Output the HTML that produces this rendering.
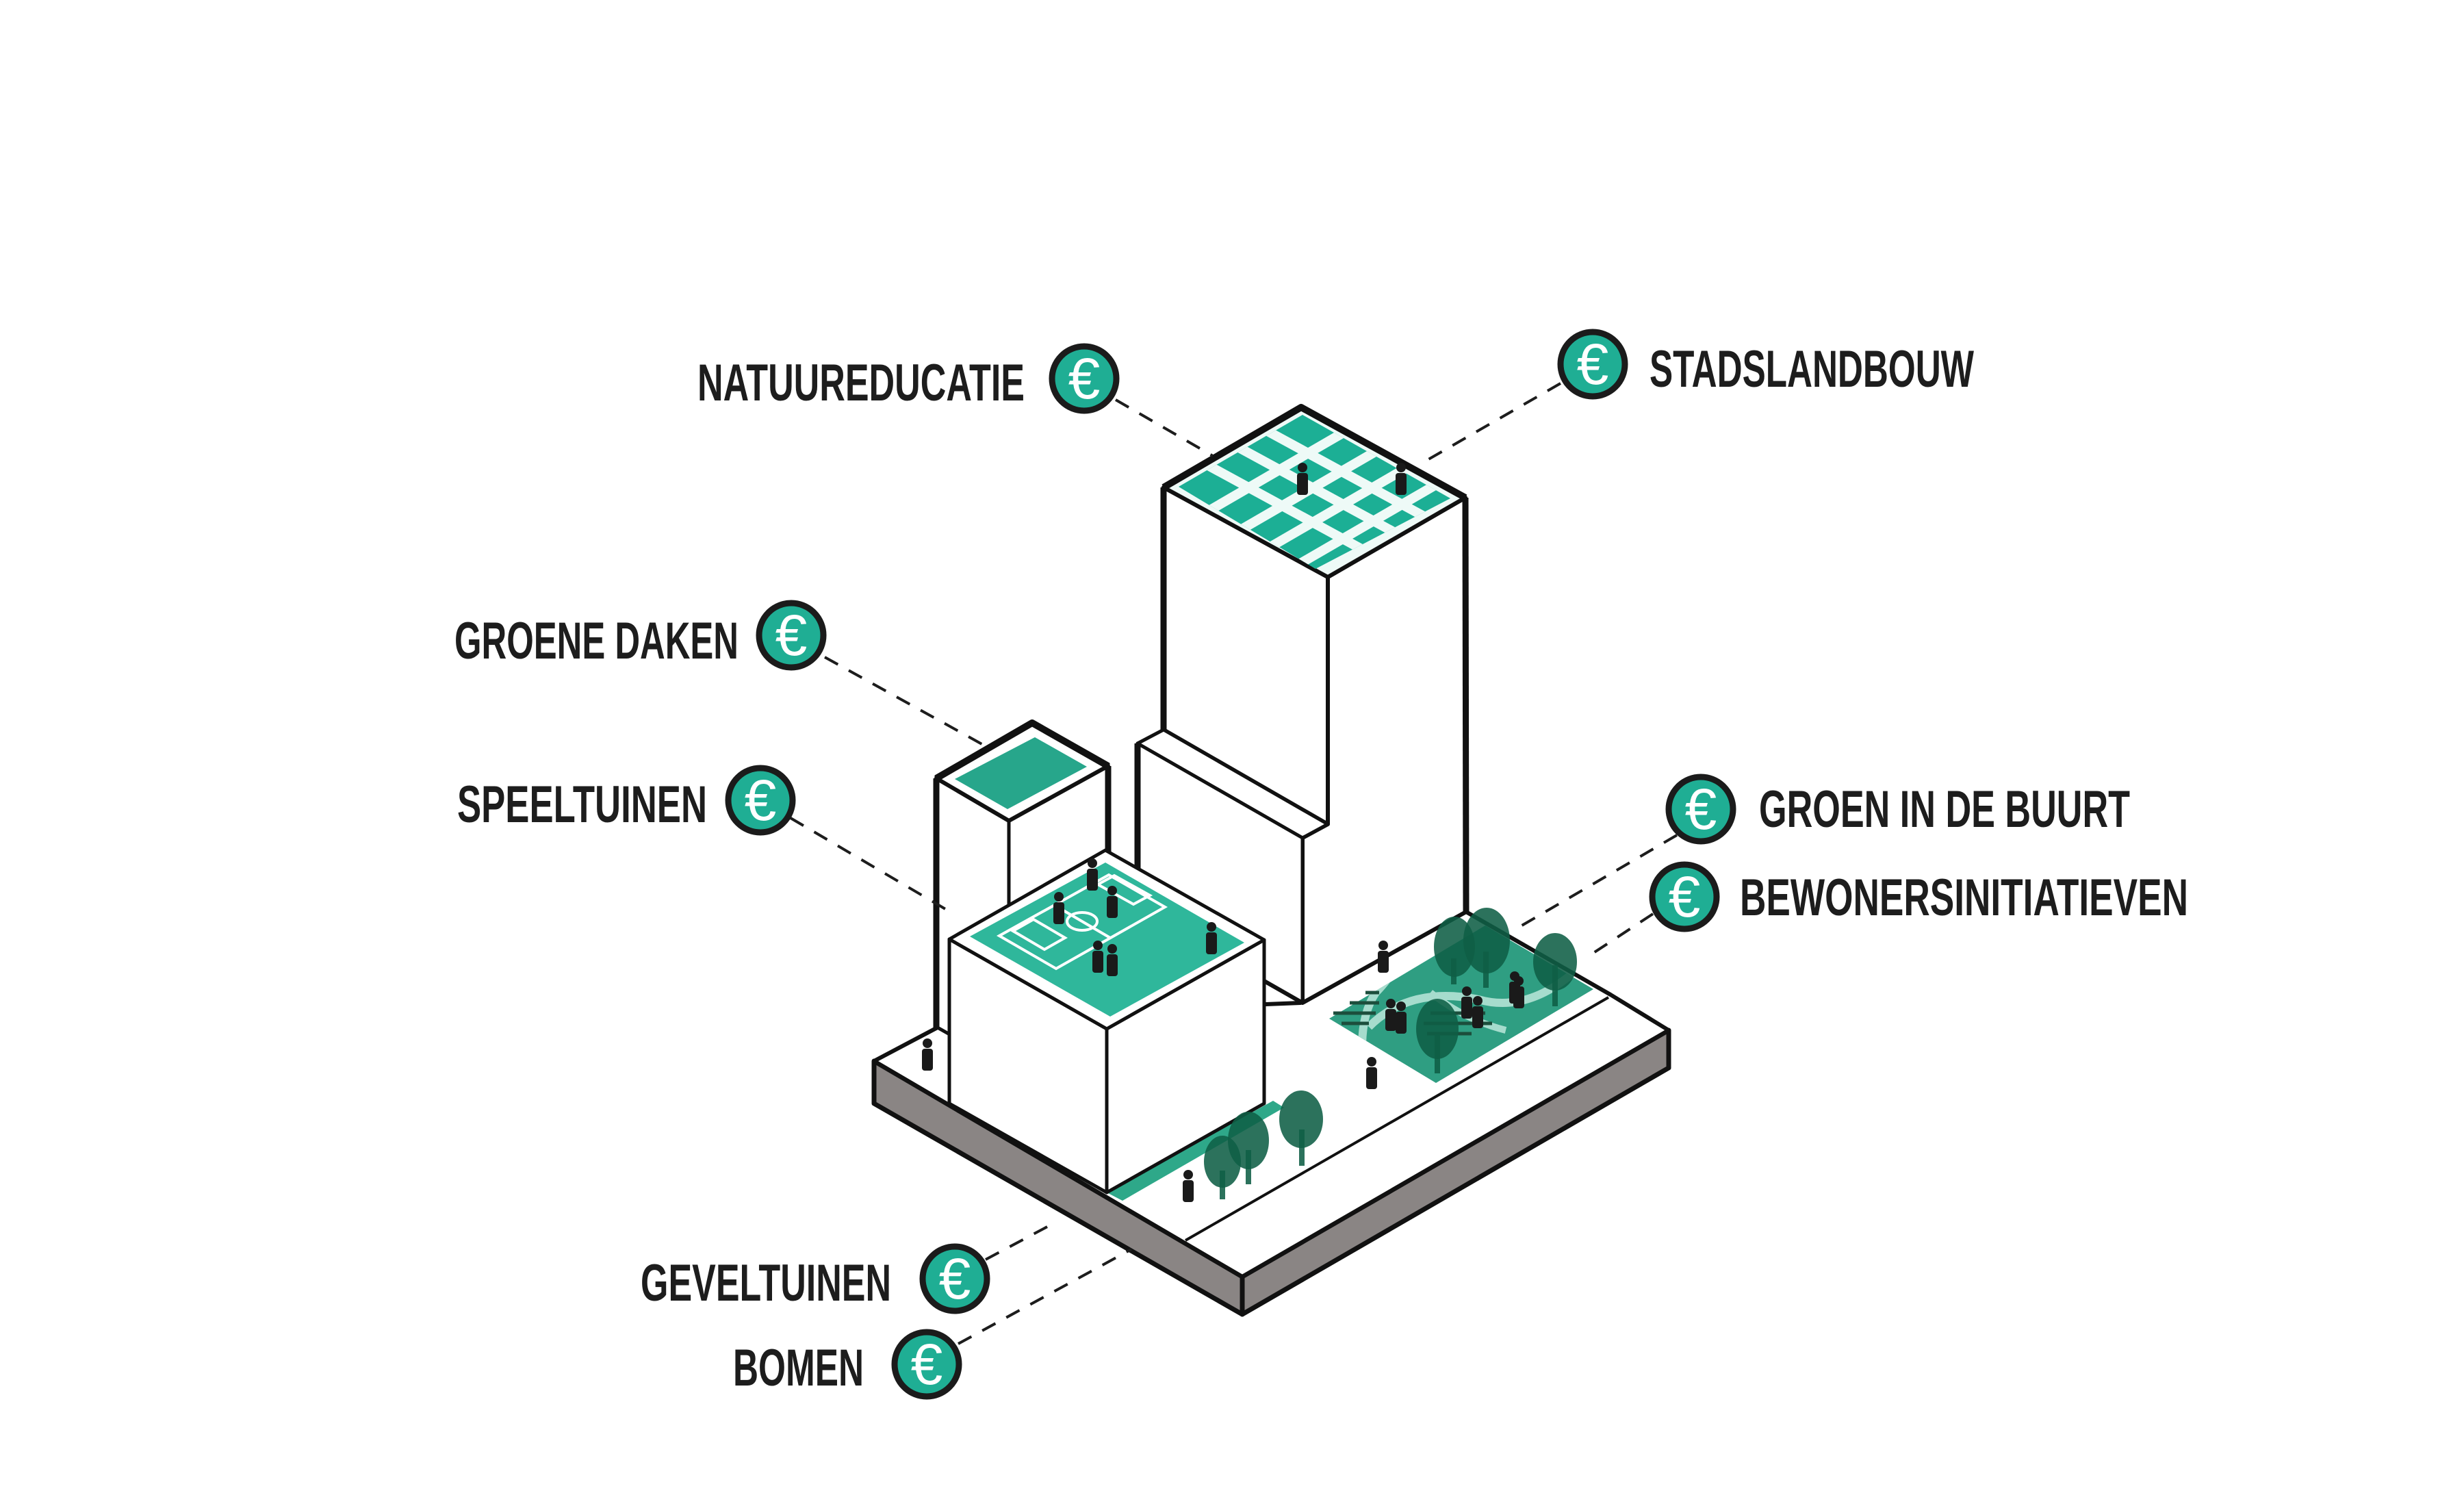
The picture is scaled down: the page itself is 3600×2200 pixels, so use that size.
<!DOCTYPE html>
<html><head><meta charset="utf-8"><style>
html,body{margin:0;padding:0;background:#fff}
svg{display:block}
.lbl{font-family:"Liberation Sans",sans-serif;font-weight:bold;font-size:76px;fill:#1d1d1d}
.eu{font-family:"Liberation Sans",sans-serif;font-size:84px;fill:#fff;text-anchor:middle}
</style></head><body>
<svg width="3600" height="2200" viewBox="0 0 3600 2200" xmlns="http://www.w3.org/2000/svg">
<defs>
<clipPath id="roofclip"><polygon points="1722,711 1903,606 2119,728 1922,831"/></clipPath>
<clipPath id="parkclip"><polygon points="1942,1488 2098,1582 2328,1445 2170,1352"/></clipPath>
<g id="p"><circle cx="0" cy="7" r="7"/><rect x="-8" y="15" width="16" height="32" rx="4"/></g>
</defs>
<rect width="3600" height="2200" fill="#fff"/>

<!-- slab -->
<polygon points="1277,1550 1815,1865 1815,1920 1277,1612" fill="#8a8584" stroke="#111" stroke-width="7" stroke-linejoin="round"/>
<polygon points="1815,1865 2438,1505 2438,1560 1815,1920" fill="#8a8584" stroke="#111" stroke-width="7" stroke-linejoin="round"/>
<polygon points="1277,1550 1400,1485 1900,1465 2142,1332 2353,1453 2438,1505 1815,1865" fill="#fff" stroke="#111" stroke-width="6" stroke-linejoin="round"/>
<line x1="1732" y1="1812" x2="2350" y2="1457" stroke="#111" stroke-width="4"/>

<!-- park -->
<polygon points="1942,1488 2098,1582 2328,1445 2170,1352" fill="#2f9e82"/>
<g clip-path="url(#parkclip)">
<path d="M2060,1370 Q2040,1420 2010,1450 Q1990,1480 1990,1530" stroke="#a6dccd" stroke-width="12" fill="none"/>
<path d="M2000,1500 Q2060,1440 2160,1460 Q2230,1480 2300,1420" stroke="#a6dccd" stroke-width="12" fill="none"/>
<path d="M2090,1450 Q2140,1490 2200,1505" stroke="#a6dccd" stroke-width="10" fill="none"/>
</g>
<g stroke="#1c4e3c" stroke-width="5">
<line x1="1995" y1="1450" x2="2015" y2="1450"/><line x1="1972" y1="1465" x2="2015" y2="1465"/><line x1="1948" y1="1480" x2="2010" y2="1480"/><line x1="1960" y1="1495" x2="2000" y2="1495"/>
<line x1="2090" y1="1480" x2="2170" y2="1480"/><line x1="2080" y1="1495" x2="2180" y2="1495"/><line x1="2085" y1="1510" x2="2150" y2="1510"/>
</g>

<!-- green strip -->
<polygon points="1617,1742 1640,1754 1876,1618 1860,1608" fill="#2ea889"/>

<!-- tall tower -->
<polygon points="1700,712 1940,843 1940,1204 1700,1066" fill="#fff" stroke="#111" stroke-width="6" stroke-linejoin="round"/>
<polygon points="1940,843 2141,727 2142,1332 1903,1465 1903,1224 1940,1204" fill="#fff" stroke="#111" stroke-width="6" stroke-linejoin="round"/>
<polygon points="1700,712 1901,595 2141,727 1940,843" fill="#eefaf7" stroke="#111" stroke-width="6" stroke-linejoin="round"/>
<polyline points="1700,712 1901,595 2141,727" fill="none" stroke="#111" stroke-width="10" stroke-linejoin="round"/>
<line x1="2141" y1="727" x2="2142" y2="1332" stroke="#111" stroke-width="9"/>
<line x1="1700" y1="712" x2="1700" y2="1066" stroke="#111" stroke-width="9"/>
<polygon points="1722,711 1903,606 2119,728 1922,831" fill="#1caf95"/>
<g clip-path="url(#roofclip)" stroke="#eefaf7" stroke-width="14">
<line x1="1712" y1="651" x2="2048" y2="834"/>
<line x1="1757" y1="625" x2="2093" y2="808"/>
<line x1="1799" y1="601" x2="2135" y2="784"/>
<line x1="1725" y1="770" x2="2006" y2="607"/>
<line x1="1773" y1="797" x2="2054" y2="634"/>
<line x1="1818" y1="821" x2="2099" y2="658"/>
<line x1="1862" y1="845" x2="2143" y2="682"/>
</g>

<!-- middle block -->
<polygon points="1662,1086 1700,1066 1940,1204 1903,1224" fill="#fff" stroke="#111" stroke-width="5" stroke-linejoin="round"/>
<polygon points="1662,1086 1903,1224 1903,1465 1662,1330" fill="#fff" stroke="#111" stroke-width="5" stroke-linejoin="round"/>
<line x1="1662" y1="1086" x2="1662" y2="1290" stroke="#111" stroke-width="9"/>
<line x1="1847" y1="1433" x2="1903" y2="1465" stroke="#111" stroke-width="6"/>

<!-- small tower -->
<polygon points="1368,1137 1474,1199 1474,1560 1368,1500" fill="#fff" stroke="#111" stroke-width="5"/>
<polygon points="1474,1199 1619,1119 1619,1500 1474,1560" fill="#fff" stroke="#111" stroke-width="5"/>
<polygon points="1368,1137 1508,1056 1619,1119 1474,1199" fill="#fff" stroke="#111" stroke-width="6" stroke-linejoin="round"/>
<polyline points="1368,1137 1508,1056 1619,1119" fill="none" stroke="#111" stroke-width="10" stroke-linejoin="round"/>
<line x1="1368" y1="1137" x2="1368" y2="1501" stroke="#111" stroke-width="9"/>
<line x1="1619" y1="1119" x2="1619" y2="1245" stroke="#111" stroke-width="9"/>
<polygon points="1395,1138 1512,1077 1588,1120 1472,1182" fill="#27a68b"/>

<!-- soccer block -->
<polygon points="1387,1372 1617,1503 1617,1742 1387,1612" fill="#fff" stroke="#111" stroke-width="5" stroke-linejoin="round"/>
<polygon points="1617,1503 1847,1373 1847,1612 1617,1742" fill="#fff" stroke="#111" stroke-width="5" stroke-linejoin="round"/>
<polygon points="1387,1372 1615,1242 1847,1373 1617,1503" fill="#fff" stroke="#111" stroke-width="5" stroke-linejoin="round"/>
<polygon points="1417,1368 1615,1260 1818,1377 1622,1485" fill="#2fb79b"/>
<g stroke="#fff" stroke-width="4" fill="none">
<polygon points="1460,1367 1620,1278 1702,1325 1543,1415"/>
<line x1="1540" y1="1322" x2="1622" y2="1370"/>
<ellipse cx="1581" cy="1346" rx="22" ry="13"/>
<polygon points="1480,1360 1510,1343 1556,1370 1526,1387"/>
<polygon points="1604,1292 1628,1279 1680,1308 1656,1321"/>
</g>

<!-- trees -->
<g fill="#0f5e45" fill-opacity="0.88">
<rect x="2120" y="1400" width="8" height="38"/><ellipse cx="2125" cy="1383" rx="30" ry="44"/>
<rect x="2167" y="1390" width="8" height="53"/><ellipse cx="2172" cy="1374" rx="34" ry="48"/>
<rect x="2268" y="1410" width="8" height="60"/><ellipse cx="2272" cy="1405" rx="32" ry="42"/>
<rect x="2096" y="1510" width="8" height="58"/><ellipse cx="2100" cy="1503" rx="31" ry="44"/>
<rect x="1782" y="1710" width="8" height="42"/><ellipse cx="1786" cy="1697" rx="27" ry="38"/>
<rect x="1820" y="1680" width="8" height="50"/><ellipse cx="1824" cy="1666" rx="30" ry="42"/>
<rect x="1898" y="1650" width="8" height="53"/><ellipse cx="1901" cy="1635" rx="32" ry="42"/>
</g>

<!-- people -->
<g fill="#1a1a1a">
<use href="#p" x="1903" y="676"/><use href="#p" x="2047" y="676"/>
<use href="#p" x="1596" y="1254"/><use href="#p" x="1547" y="1303"/><use href="#p" x="1625" y="1294"/>
<use href="#p" x="1770" y="1347"/><use href="#p" x="1604" y="1374"/><use href="#p" x="1625" y="1379"/>
<use href="#p" x="1355" y="1517"/><use href="#p" x="2021" y="1374"/><use href="#p" x="2032" y="1459"/>
<use href="#p" x="2047" y="1463"/><use href="#p" x="2143" y="1441"/><use href="#p" x="2159" y="1455"/>
<use href="#p" x="2213" y="1419"/><use href="#p" x="2219" y="1426"/><use href="#p" x="2004" y="1544"/><use href="#p" x="1736" y="1709"/>
</g>

<!-- dashed connectors -->
<g stroke="#1d1d1d" stroke-width="4" stroke-dasharray="22 18" fill="none">
<line x1="1630" y1="584" x2="1772" y2="666"/>
<line x1="2280" y1="560" x2="2087" y2="671"/>
<line x1="1205" y1="960" x2="1440" y2="1090"/>
<line x1="1155" y1="1195" x2="1395" y2="1336"/>
<line x1="2450" y1="1220" x2="2220" y2="1354"/>
<line x1="2415" y1="1335" x2="2319" y2="1398"/>
<line x1="1440" y1="1840" x2="1532" y2="1791"/>
<line x1="1400" y1="1963" x2="1653" y2="1825"/>
</g>

<!-- coins -->
<g stroke="#1b1b1b" stroke-width="9" fill="#1fae94">
<circle cx="1584" cy="553" r="47"/>
<circle cx="2327" cy="532" r="47"/>
<circle cx="1156" cy="928" r="47"/>
<circle cx="1111" cy="1169" r="47"/>
<circle cx="2485" cy="1182" r="47"/>
<circle cx="2461" cy="1310" r="47"/>
<circle cx="1395" cy="1868" r="47"/>
<circle cx="1354" cy="1993" r="47"/>
</g>
<g class="eu">
<text x="1584" y="582">€</text>
<text x="2327" y="561">€</text>
<text x="1156" y="957">€</text>
<text x="1111" y="1198">€</text>
<text x="2485" y="1211">€</text>
<text x="2461" y="1339">€</text>
<text x="1395" y="1897">€</text>
<text x="1354" y="2022">€</text>
</g>

<!-- labels -->
<text class="lbl" x="1019" y="585" textLength="478" lengthAdjust="spacingAndGlyphs">NATUUREDUCATIE</text>
<text class="lbl" x="2410" y="565" textLength="474" lengthAdjust="spacingAndGlyphs">STADSLANDBOUW</text>
<text class="lbl" x="664" y="962" textLength="415" lengthAdjust="spacingAndGlyphs">GROENE DAKEN</text>
<text class="lbl" x="668" y="1201" textLength="365" lengthAdjust="spacingAndGlyphs">SPEELTUINEN</text>
<text class="lbl" x="2570" y="1208" textLength="542" lengthAdjust="spacingAndGlyphs">GROEN IN DE BUURT</text>
<text class="lbl" x="2542" y="1337" textLength="655" lengthAdjust="spacingAndGlyphs">BEWONERSINITIATIEVEN</text>
<text class="lbl" x="936" y="1900" textLength="366" lengthAdjust="spacingAndGlyphs">GEVELTUINEN</text>
<text class="lbl" x="1071" y="2024" textLength="191" lengthAdjust="spacingAndGlyphs">BOMEN</text>
</svg>
</body></html>
